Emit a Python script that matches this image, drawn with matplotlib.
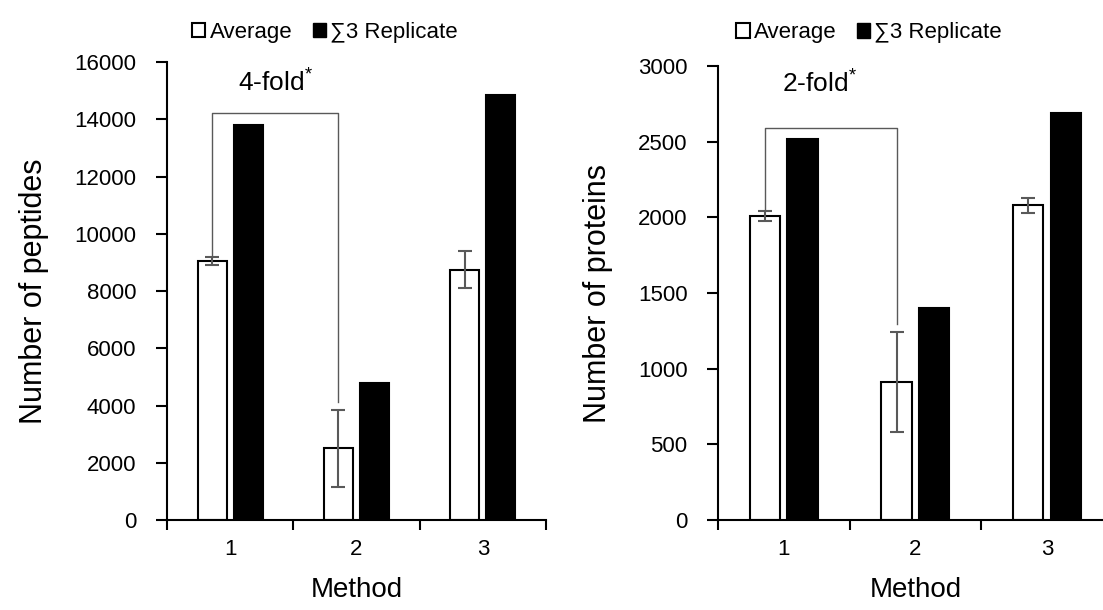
import numpy as np
import matplotlib.pyplot as plt
from matplotlib.patches import Patch
from matplotlib.ticker import FixedLocator

plt.rcParams['font.family'] = ['Liberation Sans', 'DejaVu Sans']
plt.rcParams['mathtext.fontset'] = 'custom'
plt.rcParams['mathtext.rm'] = 'Liberation Sans'
plt.rcParams['mathtext.it'] = 'Liberation Sans'

methods = [1, 2, 3]
pep_avg = [9050, 2500, 8750]
pep_err = [150, 1350, 650]
pep_sum = [13800, 4800, 14850]
prot_avg = [2010, 910, 2080]
prot_err = [35, 330, 50]
prot_sum = [2520, 1400, 2690]
fold_labels = ['4-fold', '2-fold']
bracket_top = [14230, 2590]

fig = plt.figure(figsize=(11.03, 6.10), dpi=100)
ax1 = fig.add_axes([0.1514, 0.1475, 0.3436, 0.7508])
ax2 = fig.add_axes([0.651, 0.1475, 0.3577, 0.7443])

w = 0.23
off = 0.143
gray = '#595959'

def panel(ax, avg, err, tot, ymax, ystep, ylabel, fold, btop, txt_xy, leg_x):
    x = np.array(methods)
    ax.bar(x - off, avg, w, color='white', edgecolor='black', linewidth=1.5, zorder=2)
    ax.errorbar(x - off, avg, yerr=err, fmt='none', ecolor=gray, elinewidth=1.5,
                capsize=5, capthick=1.5, zorder=3)
    ax.bar(x + off, tot, w, color='black', edgecolor='black', linewidth=1.5, zorder=2)
    ax.set_xlim(0.5, 3.5)
    ax.set_ylim(0, ymax)
    ax.set_yticks(np.arange(0, ymax + 1, ystep))
    ax.set_xticks(methods)
    ax.xaxis.set_minor_locator(FixedLocator([0.5, 1.5, 2.5, 3.5]))
    ax.tick_params(axis='x', which='major', length=0, labelsize=16, pad=14)
    ax.tick_params(axis='x', which='minor', length=7, width=1.5, direction='out')
    ax.tick_params(axis='y', length=8, width=1.5, labelsize=16, pad=14)
    for s in ['top', 'right']:
        ax.spines[s].set_visible(False)
    for s in ['left', 'bottom']:
        ax.spines[s].set_linewidth(1.5)
    ax.set_xlabel('Method', fontsize=20, labelpad=12)
    ax.set_ylabel(ylabel, fontsize=22, labelpad=18)
    # bracket between method 1 and method 2 averages
    gap = ymax * 0.018
    ax.plot([1 - off, 1 - off, 2 - off, 2 - off],
            [avg[0] + err[0], btop, btop, avg[1] + err[1] + gap],
            color=gray, linewidth=1, zorder=1)
    ax.text(txt_xy[0], txt_xy[1], fold + '$^{*}$', fontsize=19,
            ha='left', va='baseline')
    handles = [Patch(facecolor='white', edgecolor='black', linewidth=1.5),
               Patch(facecolor='black', edgecolor='black')]
    ax.legend(handles, ['Average', '∑3 Replicate'], ncol=2, frameon=False,
              loc='center', bbox_to_anchor=leg_x, fontsize=16,
              handlelength=0.6, handleheight=0.6, handletextpad=0.2,
              columnspacing=0.9, borderaxespad=0, borderpad=0)

panel(ax1, pep_avg, pep_err, pep_sum, 16000, 2000, 'Number of peptides',
      fold_labels[0], bracket_top[0], (1.06, 14960), (0.417, 1.065))
panel(ax2, prot_avg, prot_err, prot_sum, 3000, 500, 'Number of proteins',
      fold_labels[1], bracket_top[1], (0.99, 2822), (0.383, 1.073))

fig.savefig('out.png', dpi=100)
